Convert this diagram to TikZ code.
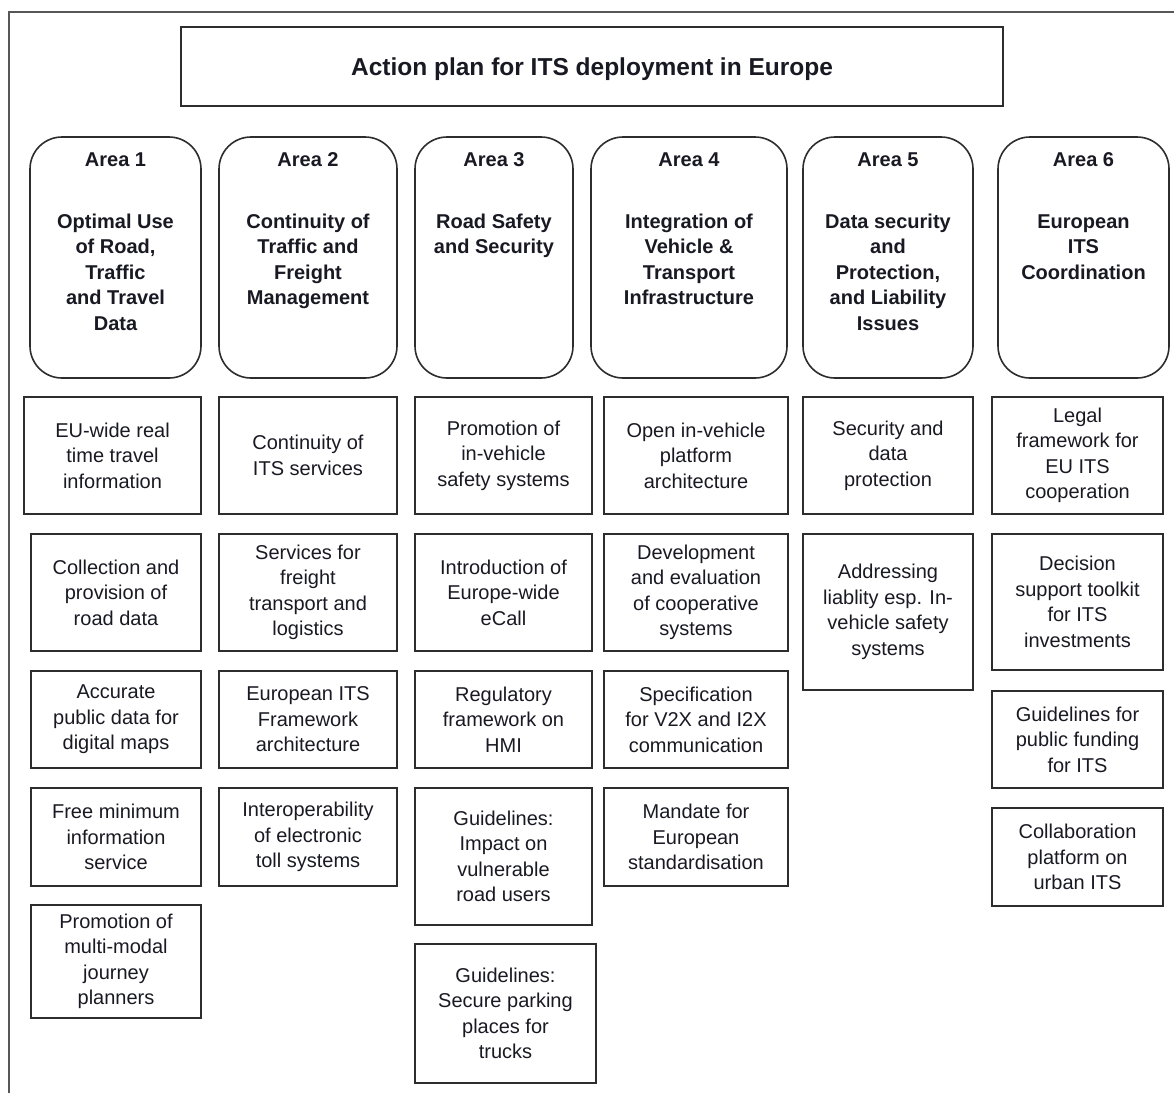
\documentclass[tikz,border=0pt]{standalone}
\usepackage{fontspec}
\setmainfont{Liberation Sans}
\usepackage{tikz}
\usetikzlibrary{positioning}
\definecolor{inkline}{RGB}{45,45,45}
\definecolor{inktext}{RGB}{25,25,35}
\newcommand{\itemfont}{\fontsize{20}{25.5}\selectfont}
\newcommand{\planbox}[6]{
	\node[plan, minimum width={(#4-#2)*1pt}, minimum height={(#5-#3)*1pt}] (#1) at ({(#2+#4)/2},{(#3+#5)/2}) {#6};
}
\newcommand{\areabox}[5]{
	\node[area, minimum width={(#3-#2)*1pt}] (#1) at ({(#2+#3)/2},257.5) {};
	\node[areatext, below=16pt of #1.north] (#1txt) {#4\\[36.5pt]#5};
}

\begin{document}
\begin{tikzpicture}[x=1pt,y=-1pt,
	plan/.style={draw=inkline, line width=1.8pt, inner sep=0pt, align=center, font=\itemfont, text=inktext},
	area/.style={draw=inkline, line width=1.6pt, rounded corners=32pt, minimum height=241pt, inner sep=0pt},
	areatext/.style={align=center, inner sep=0pt, font=\itemfont\bfseries, text=inktext}]
	\useasboundingbox (0,0) rectangle (1174,1093);
	\draw[inkline!80, line width=1.5pt] (9,1093) -- (9,12) -- (1174,12);

	\node[draw=inkline, line width=1.8pt, minimum width=822pt, minimum height=79pt, inner sep=0pt,
		text depth=0pt, font=\fontsize{24.5}{30}\selectfont\bfseries, text=inktext] (plan) at (592,66.5)
		{Action plan for ITS deployment in Europe};

	\areabox{a1}{30}{201}{Area 1}{Optimal Use\\of Road,\\Traffic\\and Travel\\Data}
	\areabox{a2}{219}{397}{Area 2}{Continuity of\\Traffic and\\Freight\\Management}
	\areabox{a3}{415}{573}{Area 3}{Road Safety\\and Security}
	\areabox{a4}{591}{787}{Area 4}{Integration of\\Vehicle \&\\Transport\\Infrastructure}
	\areabox{a5}{803}{973}{Area 5}{Data security\\and\\Protection,\\and Liability\\Issues}
	\areabox{a6}{998}{1169}{Area 6}{European\\ITS\\Coordination}

	\planbox{traveldata}{24}{397}{201}{514}{EU-wide real\\time travel\\information}
	\planbox{roaddata}{31}{534}{201}{651}{Collection and\\provision of\\road data}
	\planbox{maps}{31}{671}{201}{768}{Accurate\\public data for\\digital maps}
	\planbox{freeinfo}{31}{788}{201}{886}{Free minimum\\information\\service}
	\planbox{journey}{31}{905}{201}{1018}{Promotion of\\multi-modal\\journey\\planners}

	\planbox{continuity}{219}{397}{397}{514}{Continuity of\\ITS services}
	\planbox{freight}{219}{534}{397}{651}{Services for\\freight\\transport and\\logistics}
	\planbox{framework}{219}{671}{397}{768}{European ITS\\Framework\\architecture}
	\planbox{toll}{219}{788}{397}{886}{Interoperability\\of electronic\\toll systems}

	\planbox{safety}{415}{397}{592}{514}{Promotion of\\in-vehicle\\safety systems}
	\planbox{ecall}{415}{534}{592}{651}{Introduction of\\Europe-wide\\eCall}
	\planbox{hmi}{415}{671}{592}{768}{Regulatory\\framework on\\HMI}
	\planbox{vulnerable}{415}{788}{592}{925}{Guidelines:\\Impact on\\vulnerable\\road users}
	\planbox{parking}{415}{944}{596}{1083}{Guidelines:\\Secure parking\\places for\\trucks}

	\planbox{platform}{604}{397}{788}{514}{Open in-vehicle\\platform\\architecture}
	\planbox{cooperative}{604}{534}{788}{651}{Development\\and evaluation\\of cooperative\\systems}
	\planbox{vtox}{604}{671}{788}{768}{Specification\\for V2X and I2X\\communication}
	\planbox{mandate}{604}{788}{788}{886}{Mandate for\\European\\standardisation}

	\planbox{protection}{803}{397}{973}{514}{Security and\\data\\protection}
	\planbox{liability}{803}{534}{973}{690}{Addressing\\liablity esp. In-\\vehicle safety\\systems}

	\planbox{legal}{992}{397}{1163}{514}{Legal\\framework for\\EU ITS\\cooperation}
	\planbox{toolkit}{992}{534}{1163}{670}{Decision\\support toolkit\\for ITS\\investments}
	\planbox{funding}{992}{691}{1163}{788}{Guidelines for\\public funding\\for ITS}
	\planbox{urban}{992}{808}{1163}{906}{Collaboration\\platform on\\urban ITS}
\end{tikzpicture}
\end{document}
